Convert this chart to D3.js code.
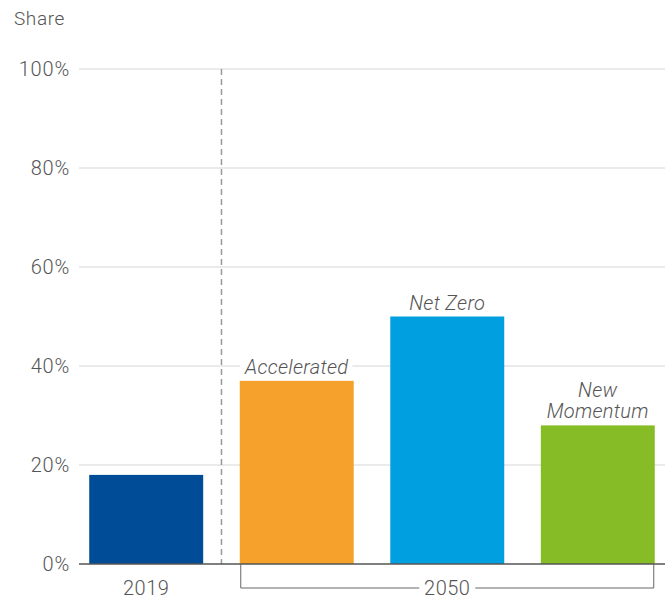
<!DOCTYPE html>
<html>
<head>
<meta charset="utf-8">
<script src="https://cdn.jsdelivr.net/npm/d3@7"></script>
<style>
  body { margin: 0; background: #fff; }
  svg text { font-family: Roboto, "Liberation Sans", Arial, sans-serif; font-weight: 300; }
</style>
</head>
<body>
<svg id="svg1" width="670" height="599"></svg>
<script>
var categories = ['2019', 'Accelerated', 'Net Zero', 'New Momentum'];
var values = [18, 37, 50, 28];
var colors = ['#004c97', '#f5a12b', '#009fe0', '#86bc25'];
var labelLines = [[], ['Accelerated'], ['Net Zero'], ['New', 'Momentum']];
var yTicks = [0, 20, 40, 60, 80, 100];

var svg = d3.select('#svg1');
var plotLeft = 79, plotRight = 665, plotTop = 69, plotBottom = 564;

var x = d3.scaleBand().domain(categories).range([plotLeft, plotRight])
    .paddingInner(0.243).paddingOuter(0.068);
var y = d3.scaleLinear().domain([0, 100]).range([plotBottom, plotTop]);

// gridlines
svg.append('g').selectAll('line').data(yTicks.slice(1)).enter().append('line')
    .attr('x1', plotLeft).attr('x2', plotRight)
    .attr('y1', function (d) { return y(d); })
    .attr('y2', function (d) { return y(d); })
    .attr('stroke', '#d6d6d6').attr('stroke-width', 1);

// y tick labels
svg.append('g').selectAll('text').data(yTicks).enter().append('text')
    .attr('x', 70)
    .attr('y', function (d) { return y(d) + 7; })
    .attr('text-anchor', 'end')
    .attr('font-size', 20)
    .attr('letter-spacing', 0.8)
    .attr('fill', '#555')
    .text(function (d) { return d + '%'; });

svg.append('text').attr('x', 14).attr('y', 25)
    .attr('font-size', 19).attr('letter-spacing', 0.6)
    .attr('fill', '#555').text('Share');

// divider between 2019 and 2050
var divX = (x('2019') + x.bandwidth() + x('Accelerated')) / 2;
svg.append('line')
    .attr('x1', divX).attr('x2', divX)
    .attr('y1', plotTop).attr('y2', plotBottom)
    .attr('stroke', '#999').attr('stroke-width', 1.5)
    .attr('stroke-dasharray', '6,4');

// bars
svg.append('g').selectAll('rect').data(categories).enter().append('rect')
    .attr('x', function (d) { return x(d); })
    .attr('y', function (d, i) { return y(values[i]); })
    .attr('width', x.bandwidth())
    .attr('height', function (d, i) { return plotBottom - y(values[i]); })
    .attr('fill', function (d, i) { return colors[i]; });

// scenario labels above bars
categories.forEach(function (c, i) {
    var lines = labelLines[i];
    if (!lines.length) return;
    var cx = x(c) + x.bandwidth() / 2;
    var baseY = y(values[i]) - 7;
    var g = svg.append('g');
    var t = g.append('text')
        .attr('text-anchor', 'middle')
        .attr('font-size', 20)
        .attr('font-style', 'italic')
        .attr('letter-spacing', 0.3)
        .attr('fill', '#555');
    lines.forEach(function (l, j) {
        t.append('tspan').attr('x', cx)
            .attr('y', baseY - (lines.length - 1 - j) * 21)
            .text(l);
    });
    var bb = t.node().getBBox();
    g.insert('rect', 'text')
        .attr('x', bb.x - 4).attr('y', bb.y)
        .attr('width', bb.width + 8).attr('height', bb.height)
        .attr('fill', '#fff');
});

// x axis baseline
svg.append('line')
    .attr('x1', plotLeft).attr('x2', plotRight)
    .attr('y1', plotBottom).attr('y2', plotBottom)
    .attr('stroke', '#555').attr('stroke-width', 1.5);

// 2019 label
svg.append('text')
    .attr('x', x('2019') + x.bandwidth() / 2).attr('y', 595)
    .attr('text-anchor', 'middle')
    .attr('font-size', 20).attr('letter-spacing', 0.5)
    .attr('fill', '#555').text('2019');

// 2050 bracket
var bx1 = x('Accelerated') + 1, bx2 = x('New Momentum') + x.bandwidth() - 1;
var by = 588;
var mid = (bx1 + bx2) / 2;
svg.append('path')
    .attr('d', 'M' + bx1 + ',' + plotBottom + 'V' + by + 'H' + (mid - 28) +
        'M' + (mid + 28) + ',' + by + 'H' + bx2 + 'V' + plotBottom)
    .attr('fill', 'none').attr('stroke', '#666').attr('stroke-width', 1);
svg.append('text')
    .attr('x', mid).attr('y', 595)
    .attr('text-anchor', 'middle')
    .attr('font-size', 20).attr('letter-spacing', 0.5)
    .attr('fill', '#555').text('2050');
</script>
</body>
</html>
